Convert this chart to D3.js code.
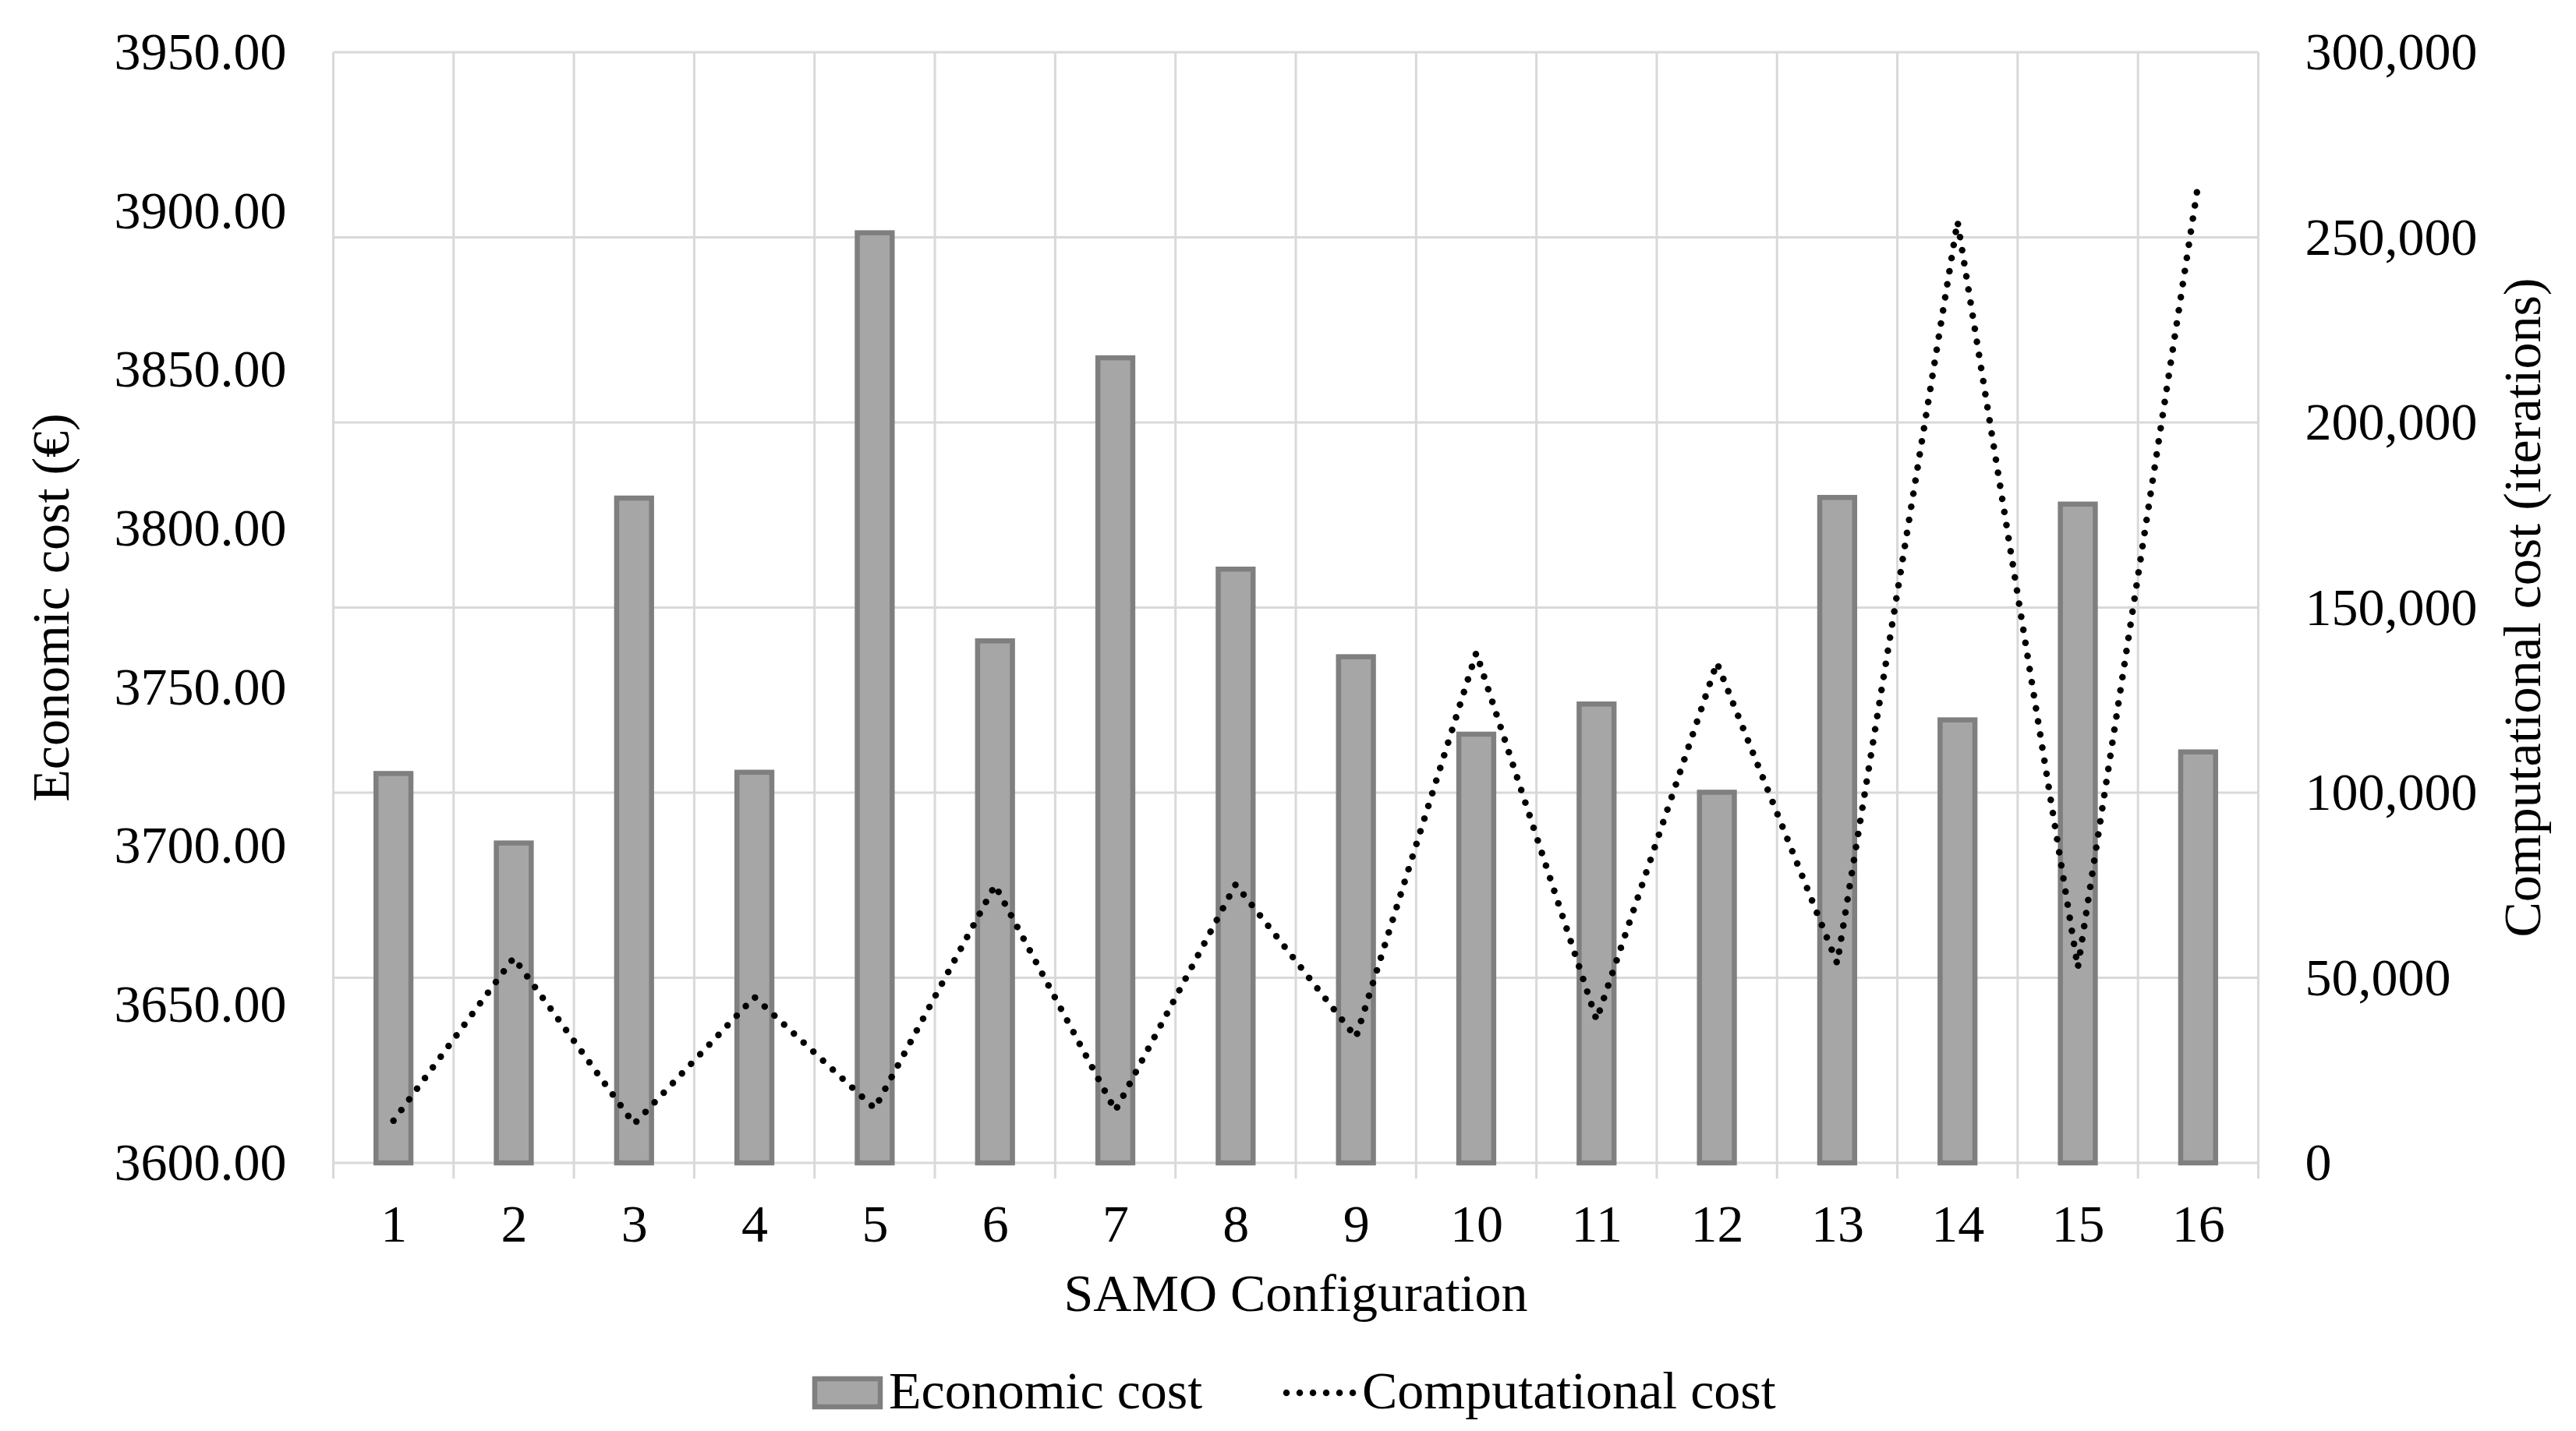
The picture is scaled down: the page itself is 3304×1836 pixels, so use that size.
<!DOCTYPE html>
<html>
<head>
<meta charset="utf-8">
<script src="https://cdn.jsdelivr.net/npm/d3@7"></script>
<style>
html, body { margin: 0; padding: 0; background: #ffffff; }
svg text { font-family: "Liberation Serif", "Times New Roman", serif; fill: #000; }
</style>
</head>
<body>
<svg id="chart" width="3304" height="1836"></svg>
<script>
// ---- Data ----
const categories = ["1","2","3","4","5","6","7","8","9","10","11","12","13","14","15","16"];
const economicCost = [3722.7, 3700.8, 3809.5, 3723.1, 3893.1, 3764.5, 3853.7, 3787.1,
                      3759.5, 3735.1, 3744.6, 3716.8, 3809.7, 3739.6, 3807.6, 3729.5];
const computationalCost = [11400, 55400, 10500, 44800, 14700, 75000, 14100, 75200,
                           33900, 137800, 38600, 135100, 53900, 254300, 52700, 264300];
const leftTicks = [3600, 3650, 3700, 3750, 3800, 3850, 3900, 3950];
const rightTicks = [0, 50000, 100000, 150000, 200000, 250000, 300000];
const seriesNames = ["Economic cost", "Computational cost"];
const xTitle = "SAMO Configuration";
const leftTitle = "Economic cost (€)";
const rightTitle = "Computational cost (iterations)";

// ---- Layout ----
const W = 3304, H = 1836;
const plot = { left: 427.5, right: 2896.5, top: 67, bottom: 1492 };
const fontSize = 68;
const gridColor = "#d9d9d9";
const barFill = "#a6a6a6";
const barStroke = "#7f7f7f";

const svg = d3.select("#chart");
svg.append("rect").attr("width", W).attr("height", H).attr("fill", "#fff");

const x = d3.scaleBand().domain(categories).range([plot.left, plot.right])
  .paddingInner(0.71).paddingOuter(0.355);
const yL = d3.scaleLinear().domain([3600, 3950]).range([plot.bottom, plot.top]);
const yR = d3.scaleLinear().domain([0, 300000]).range([plot.bottom, plot.top]);

// ---- Gridlines ----
const grid = svg.append("g");
grid.selectAll("line.h").data(rightTicks).join("line")
  .attr("x1", plot.left).attr("x2", plot.right)
  .attr("y1", d => yR(d)).attr("y2", d => yR(d))
  .attr("stroke", gridColor).attr("stroke-width", 3);
const boundaries = d3.range(categories.length + 1).map(i => plot.left + i * x.step());
grid.selectAll("line.v").data(boundaries).join("line")
  .attr("x1", d => d).attr("x2", d => d)
  .attr("y1", plot.top).attr("y2", plot.bottom + 20)
  .attr("stroke", gridColor).attr("stroke-width", 3);

// ---- Bars ----
svg.append("g").selectAll("rect").data(categories).join("rect")
  .attr("x", d => x(d))
  .attr("width", x.bandwidth())
  .attr("y", (d, i) => yL(economicCost[i]))
  .attr("height", (d, i) => yL(3600) - yL(economicCost[i]))
  .attr("fill", barFill).attr("stroke", barStroke).attr("stroke-width", 6.5);

// ---- Line ----
const line = d3.line()
  .x((d, i) => x(categories[i]) + x.bandwidth() / 2)
  .y(d => yR(d));
svg.append("path").datum(computationalCost)
  .attr("d", line)
  .attr("fill", "none").attr("stroke", "#000").attr("stroke-width", 8.5)
  .attr("stroke-linecap", "round").attr("stroke-linejoin", "round")
  .attr("stroke-dasharray", "0.01 17");

// ---- Axes ----
const fmtL = d3.format(".2f");
const fmtR = d3.format(",");
const axL = svg.append("g").attr("transform", `translate(${plot.left},0)`)
  .call(d3.axisLeft(yL).tickValues(leftTicks).tickFormat(fmtL).tickSize(0).tickPadding(60));
const axR = svg.append("g").attr("transform", `translate(${plot.right},0)`)
  .call(d3.axisRight(yR).tickValues(rightTicks).tickFormat(fmtR).tickSize(0).tickPadding(60));
const xCenters = d3.scalePoint().domain(categories)
  .range([x(categories[0]) + x.bandwidth() / 2, x(categories[categories.length - 1]) + x.bandwidth() / 2]);
const axB = svg.append("g").attr("transform", `translate(0,${plot.bottom})`)
  .call(d3.axisBottom(xCenters).tickSize(0).tickPadding(53));
[axL, axR, axB].forEach(a => {
  a.select(".domain").remove();
  a.selectAll("text").attr("font-size", fontSize)
    .attr("font-family", '"Liberation Serif", "Times New Roman", serif').attr("fill", "#000");
});

// ---- Titles ----
const cy = (plot.top + plot.bottom) / 2;
svg.append("text").attr("transform", `translate(88,${cy}) rotate(-90)`)
  .attr("text-anchor", "middle").attr("font-size", fontSize).text(leftTitle);
svg.append("text").attr("transform", `translate(3258,${cy}) rotate(-90)`)
  .attr("text-anchor", "middle").attr("font-size", fontSize).text(rightTitle);
svg.append("text").attr("x", (plot.left + plot.right) / 2).attr("y", 1682)
  .attr("text-anchor", "middle").attr("font-size", fontSize).text(xTitle);

// ---- Legend ----
const lg = svg.append("g");
lg.append("rect").attr("x", 1045).attr("y", 1769).attr("width", 84).attr("height", 36)
  .attr("fill", barFill).attr("stroke", barStroke).attr("stroke-width", 6.5);
lg.append("text").attr("x", 1140).attr("y", 1807).attr("font-size", fontSize).text(seriesNames[0]);
lg.append("line").attr("x1", 1650).attr("x2", 1738).attr("y1", 1787).attr("y2", 1787)
  .attr("stroke", "#000").attr("stroke-width", 8.5).attr("stroke-linecap", "round")
  .attr("stroke-dasharray", "0.01 17");
lg.append("text").attr("x", 1747).attr("y", 1807).attr("font-size", fontSize).text(seriesNames[1]);
</script>
</body>
</html>
